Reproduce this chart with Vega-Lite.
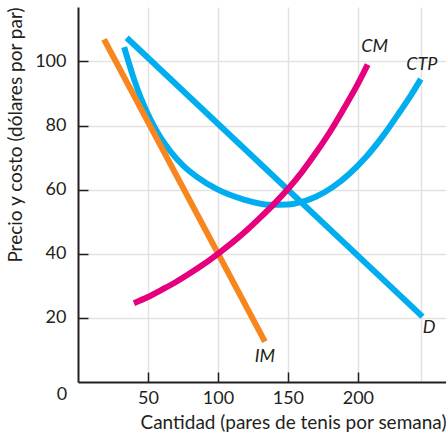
{
  "$schema": "https://vega.github.io/schema/vega-lite/v6.json",
  "width": 368,
  "height": 375,
  "autosize": "none",
  "padding": {"left": 78, "top": 7, "right": 0, "bottom": 54},
  "background": "white",
  "config": {
    "view": {"stroke": null},
    "font": "Lato",
    "axis": {"labelColor": "#231f20", "titleColor": "#231f20", "labelFont": "Lato", "titleFont": "Lato"}
  },
  "datasets": {
    "curves": [
      {"s": "D", "x": 34.8, "y": 107.4},
      {"s": "D", "x": 246.2, "y": 20.4},
      {"s": "IM", "x": 18.6, "y": 106.9},
      {"s": "IM", "x": 133.6, "y": 12.6},
      {"s": "CTP", "x": 33, "y": 104.5},
      {"s": "CTP", "x": 40, "y": 94.5},
      {"s": "CTP", "x": 45, "y": 88.5},
      {"s": "CTP", "x": 51.5, "y": 82.2},
      {"s": "CTP", "x": 58, "y": 77},
      {"s": "CTP", "x": 66, "y": 72},
      {"s": "CTP", "x": 75, "y": 67.6},
      {"s": "CTP", "x": 85, "y": 64},
      {"s": "CTP", "x": 100, "y": 60},
      {"s": "CTP", "x": 118, "y": 57},
      {"s": "CTP", "x": 137, "y": 55.3},
      {"s": "CTP", "x": 150, "y": 55.4},
      {"s": "CTP", "x": 160, "y": 56.2},
      {"s": "CTP", "x": 170, "y": 57.8},
      {"s": "CTP", "x": 182, "y": 60.8},
      {"s": "CTP", "x": 194, "y": 65},
      {"s": "CTP", "x": 206, "y": 70.3},
      {"s": "CTP", "x": 218, "y": 76.8},
      {"s": "CTP", "x": 230, "y": 84.3},
      {"s": "CTP", "x": 238, "y": 89.5},
      {"s": "CTP", "x": 245, "y": 94.5},
      {"s": "CM", "x": 40, "y": 24.6},
      {"s": "CM", "x": 50, "y": 26.5},
      {"s": "CM", "x": 60, "y": 28.8},
      {"s": "CM", "x": 70, "y": 31.2},
      {"s": "CM", "x": 80, "y": 33.9},
      {"s": "CM", "x": 90, "y": 36.8},
      {"s": "CM", "x": 100, "y": 40},
      {"s": "CM", "x": 110, "y": 43.4},
      {"s": "CM", "x": 120, "y": 47.1},
      {"s": "CM", "x": 130, "y": 51.2},
      {"s": "CM", "x": 140, "y": 55.5},
      {"s": "CM", "x": 150, "y": 60.2},
      {"s": "CM", "x": 160, "y": 65.5},
      {"s": "CM", "x": 170, "y": 71.5},
      {"s": "CM", "x": 180, "y": 78},
      {"s": "CM", "x": 190, "y": 85.3},
      {"s": "CM", "x": 200, "y": 93},
      {"s": "CM", "x": 207, "y": 99}
    ],
    "labels": [
      {"t": "CM", "x": 212, "y": 104.4},
      {"t": "CTP", "x": 245.7, "y": 99},
      {"t": "D", "x": 251, "y": 17},
      {"t": "IM", "x": 133.6, "y": 7.8}
    ],
    "zero": [{"t": "0", "x": 0, "y": 0}]
  },
  "layer": [
    {
      "data": {"name": "curves"},
      "transform": [{"filter": "datum.s == 'D'"}],
      "mark": {"type": "line", "color": "#00AEEF", "strokeWidth": 6, "strokeCap": "butt"},
      "encoding": {
        "x": {
          "field": "x", "type": "quantitative",
          "scale": {"domain": [0, 263], "nice": false, "zero": false},
          "axis": {
            "values": [50, 100, 150, 200, 245],
            "grid": true, "gridColor": "#e2e2e2", "gridWidth": 1.5,
            "tickColor": {"condition": {"test": "datum.value > 240", "value": "transparent"}, "value": "#231f20"},
            "labelExpr": "datum.value > 240 ? '' : datum.label",
            "tickSize": -10, "tickWidth": 1.5,
            "domainColor": "#231f20", "domainWidth": 2,
            "labelFontSize": 18, "labelPadding": 17,
            "title": "Cantidad (pares de tenis por semana)",
            "titleAnchor": "end", "titleFontWeight": "normal", "titleFontSize": 19, "titlePadding": 6
          }
        },
        "y": {
          "field": "y", "type": "quantitative",
          "scale": {"domain": [0, 117], "nice": false, "zero": false},
          "axis": {
            "values": [20, 40, 60, 80, 100],
            "grid": true, "gridColor": "#e2e2e2", "gridWidth": 1.5,
            "tickSize": -10, "tickWidth": 1.5, "tickColor": "#231f20",
            "domainColor": "#231f20", "domainWidth": 2,
            "labelFontSize": 18, "labelPadding": 22,
            "title": "Precio y costo (dólares por par)",
            "titleAnchor": "end", "titleFontWeight": "normal", "titleFontSize": 19, "titlePadding": 9
          }
        },
        "order": {"field": "x", "type": "quantitative"}
      }
    },
    {
      "data": {"name": "curves"},
      "transform": [{"filter": "datum.s == 'CTP'"}],
      "mark": {"type": "line", "color": "#00AEEF", "strokeWidth": 6, "strokeCap": "butt", "interpolate": "monotone"},
      "encoding": {
        "x": {"field": "x", "type": "quantitative"},
        "y": {"field": "y", "type": "quantitative"},
        "order": {"field": "x", "type": "quantitative"}
      }
    },
    {
      "data": {"name": "curves"},
      "transform": [{"filter": "datum.s == 'IM'"}],
      "mark": {"type": "line", "color": "#F7861F", "strokeWidth": 6, "strokeCap": "butt"},
      "encoding": {
        "x": {"field": "x", "type": "quantitative"},
        "y": {"field": "y", "type": "quantitative"},
        "order": {"field": "x", "type": "quantitative"}
      }
    },
    {
      "data": {"name": "curves"},
      "transform": [{"filter": "datum.s == 'CM'"}],
      "mark": {"type": "line", "color": "#E6007E", "strokeWidth": 6, "strokeCap": "butt", "interpolate": "monotone"},
      "encoding": {
        "x": {"field": "x", "type": "quantitative"},
        "y": {"field": "y", "type": "quantitative"},
        "order": {"field": "x", "type": "quantitative"}
      }
    },
    {
      "data": {"name": "labels"},
      "mark": {"type": "text", "fontStyle": "italic", "fontSize": 18, "color": "#231f20", "align": "center", "baseline": "middle"},
      "encoding": {
        "x": {"field": "x", "type": "quantitative"},
        "y": {"field": "y", "type": "quantitative"},
        "text": {"field": "t"}
      }
    },
    {
      "data": {"name": "zero"},
      "mark": {"type": "text", "fontSize": 18, "color": "#231f20", "align": "center", "baseline": "middle", "dx": -16, "dy": 13},
      "encoding": {
        "x": {"field": "x", "type": "quantitative"},
        "y": {"field": "y", "type": "quantitative"},
        "text": {"field": "t"}
      }
    }
  ]
}
